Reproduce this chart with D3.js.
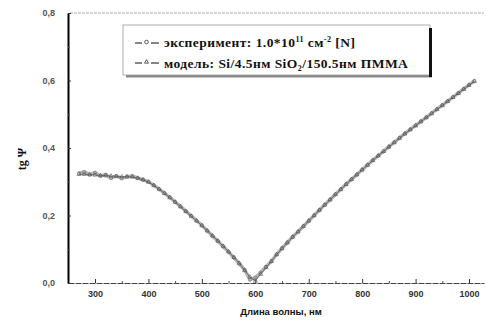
<!DOCTYPE html>
<html>
<head>
<meta charset="utf-8">
<script src="https://cdn.jsdelivr.net/npm/d3@7"></script>
<style>
  body { margin: 0; background: #fff; }
  svg { display: block; }
</style>
</head>
<body>
<svg id="chart" width="486" height="321"></svg>
<script>
// wavelength, nm (10 nm step)
const wavelengths = d3.range(270, 1011, 10)

// tg Psi, experiment
const experiment = [
    0.325, 0.329, 0.321, 0.327, 0.317, 0.321, 0.311, 0.317, 0.310, 0.315,
    0.317, 0.311, 0.306, 0.300, 0.290, 0.278, 0.266, 0.254, 0.240, 0.227,
    0.213, 0.199, 0.185, 0.171, 0.155, 0.139, 0.124, 0.108, 0.092, 0.075,
    0.057, 0.039, 0.010, 0.016, 0.031, 0.048, 0.064, 0.085, 0.103, 0.120,
    0.137, 0.152, 0.168, 0.184, 0.200, 0.216, 0.232, 0.247, 0.263, 0.278,
    0.293, 0.307, 0.321, 0.336, 0.350, 0.364, 0.377, 0.390, 0.404, 0.417,
    0.430, 0.443, 0.455, 0.467, 0.479, 0.491, 0.503, 0.515, 0.527, 0.539,
    0.551, 0.563, 0.575, 0.587, 0.599
]

// tg Psi, model
const model = [
    0.322, 0.322, 0.321, 0.320, 0.319, 0.318, 0.317, 0.316, 0.315, 0.315,
    0.314, 0.311, 0.306, 0.299, 0.289, 0.278, 0.266, 0.253, 0.240, 0.226,
    0.212, 0.198, 0.184, 0.170, 0.155, 0.140, 0.125, 0.109, 0.093, 0.076,
    0.059, 0.037, 0.018, 0.006, 0.026, 0.046, 0.064, 0.084, 0.102, 0.119,
    0.136, 0.152, 0.168, 0.184, 0.200, 0.216, 0.231, 0.247, 0.262, 0.277,
    0.292, 0.307, 0.321, 0.335, 0.349, 0.363, 0.377, 0.390, 0.403, 0.416,
    0.429, 0.442, 0.454, 0.466, 0.478, 0.490, 0.502, 0.514, 0.526, 0.538,
    0.550, 0.562, 0.574, 0.586, 0.597
]

const xTicks = [300, 400, 500, 600, 700, 800, 900, 1000]
const xMinor = [350, 450, 550, 650, 750, 850, 950]
const yTicks = [0.0, 0.2, 0.4, 0.6, 0.8]
const yMinor = [0.1, 0.3, 0.5, 0.7]

const legendLabels = ["эксперимент: 1.0*10", "модель: Si/4.5нм SiO"]

const svg = d3.select("#chart")

let x = d3.scaleLinear()
    .domain([249.5, 1028])
    .range([68, 484])

let y = d3.scaleLinear()
    .domain([0, 0.8])
    .range([283, 13])

const fmt = d => d3.format(".1f")(d).replace(".", ",")

// top frame line (faint)
svg.append("line")
    .attr("x1", 70).attr("x2", 484)
    .attr("y1", y(0.8)).attr("y2", y(0.8))
    .attr("stroke", "#aaa")
    .attr("stroke-width", 1)
    .attr("stroke-dasharray", "3,1")

// x axis
const xAxis = svg.append("g")
    .attr("transform", `translate(0, ${y(0)})`)
    .call(d3.axisBottom(x).tickValues(xTicks).tickFormat(d3.format("d")).tickSizeInner(-4).tickSizeOuter(0).tickPadding(8))
xAxis.select(".domain").attr("stroke", "#444").attr("stroke-width", 1).attr("stroke-dasharray", "6,1")
xAxis.selectAll(".tick line").attr("stroke", "#333")
xAxis.selectAll("text")
    .attr("fill", "#333")
    .style("font", "bold 9px 'Liberation Sans', Arial, sans-serif")

svg.append("g")
    .attr("transform", `translate(0, ${y(0)})`)
    .call(d3.axisBottom(x).tickValues(xMinor).tickSize(-2).tickFormat(""))
    .call(g => g.select(".domain").remove())
    .selectAll("line").attr("stroke", "#555")

// y axis
const yAxis = svg.append("g")
    .attr("transform", `translate(${x(249.5)}, 0)`)
    .call(d3.axisLeft(y).tickValues(yTicks).tickFormat(fmt).tickSizeInner(-3).tickSizeOuter(0).tickPadding(13))
yAxis.select(".domain").attr("stroke", "#000").attr("stroke-width", 2)
yAxis.selectAll(".tick line").attr("stroke", "#333")
yAxis.selectAll("text")
    .attr("fill", "#555")
    .style("font", "bold 9px 'Liberation Sans', Arial, sans-serif")

svg.append("g")
    .attr("transform", `translate(${x(249.5)}, 0)`)
    .call(d3.axisLeft(y).tickValues(yMinor).tickSize(-2).tickFormat(""))
    .call(g => g.select(".domain").remove())
    .selectAll("line").attr("stroke", "#555")

// axis titles
svg.append("text")
    .attr("x", 281).attr("y", 315)
    .attr("text-anchor", "middle")
    .attr("fill", "#111")
    .style("font", "bold 9.5px 'Liberation Sans', Arial, sans-serif")
    .text("Длина волны, нм")

svg.append("text")
    .attr("transform", "translate(26, 159) rotate(-90)")
    .attr("text-anchor", "middle")
    .attr("fill", "#111")
    .style("font", "bold 12px 'Liberation Serif', serif")
    .text("tg Ψ")

// series
const expData = wavelengths.map((w, i) => [w, experiment[i]])
const modData = wavelengths.map((w, i) => [w, model[i]])

const line = d3.line()
    .x(d => x(d[0]))
    .y(d => y(d[1]))

svg.append("path")
    .datum(expData)
    .attr("fill", "none")
    .attr("stroke", "#b5b5b5")
    .attr("stroke-width", 3.5)
    .attr("d", line)

svg.append("g").selectAll("circle")
    .data(expData)
    .join("circle")
    .attr("cx", d => x(d[0]))
    .attr("cy", d => y(d[1]))
    .attr("r", 1.6)
    .attr("fill", "none")
    .attr("stroke", "#777")
    .attr("stroke-width", 0.7)

svg.append("path")
    .datum(modData)
    .attr("fill", "none")
    .attr("stroke", "#555")
    .attr("stroke-width", 0.8)
    .attr("d", line)

const tri = d3.symbol().type(d3.symbolTriangle).size(7)
svg.append("g").selectAll("path")
    .data(modData)
    .join("path")
    .attr("transform", d => `translate(${x(d[0])}, ${y(d[1])})`)
    .attr("d", tri)
    .attr("fill", "none")
    .attr("stroke", "#555")
    .attr("stroke-width", 0.6)

// legend
const legend = svg.append("g")
legend.append("rect")
    .attr("x", 126).attr("y", 74).attr("width", 306).attr("height", 3.5)
    .attr("fill", "#888")
legend.append("rect")
    .attr("x", 123).attr("y", 25).attr("width", 307).attr("height", 50)
    .attr("fill", "#fff")
    .attr("stroke", "#999")
    .attr("stroke-width", 0.8)
legend.append("rect")
    .attr("x", 429).attr("y", 28).attr("width", 3).attr("height", 49)
    .attr("fill", "#111")

const rows = [43, 63]
rows.forEach((ry, i) => {
    legend.append("line")
        .attr("x1", 135).attr("x2", 142)
        .attr("y1", ry).attr("y2", ry)
        .attr("stroke", "#333").attr("stroke-width", 1.2)
    legend.append("line")
        .attr("x1", 151).attr("x2", 159)
        .attr("y1", ry).attr("y2", ry)
        .attr("stroke", "#333").attr("stroke-width", 1.2)
    if (i === 0) {
        legend.append("circle")
            .attr("cx", 146.5).attr("cy", ry - 1).attr("r", 1.8)
            .attr("fill", "#fff").attr("stroke", "#333").attr("stroke-width", 0.8)
    } else {
        legend.append("path")
            .attr("transform", `translate(146.5, ${ry - 1})`)
            .attr("d", tri)
            .attr("fill", "#fff").attr("stroke", "#333").attr("stroke-width", 0.8)
    }
})

const legendFont = "bold 13.5px 'Liberation Serif', serif"

const t1 = legend.append("text")
    .attr("x", 164).attr("y", 47)
    .attr("fill", "#111")
    .style("font", legendFont)
    .style("letter-spacing", "0.45px")
t1.append("tspan").text(legendLabels[0])
t1.append("tspan").attr("dy", -5).style("font-size", "8px").text("11")
t1.append("tspan").attr("dy", 5).text(" см")
t1.append("tspan").attr("dy", -5).style("font-size", "8px").text("-2")
t1.append("tspan").attr("dy", 5).text(" [N]")

const t2 = legend.append("text")
    .attr("x", 164).attr("y", 68)
    .attr("fill", "#111")
    .style("font", legendFont)
    .style("letter-spacing", "0.45px")
t2.append("tspan").text(legendLabels[1])
t2.append("tspan").attr("dy", 3).style("font-size", "8px").text("2")
t2.append("tspan").attr("dy", -3).text("/150.5нм ПММА")
</script>
</body>
</html>
